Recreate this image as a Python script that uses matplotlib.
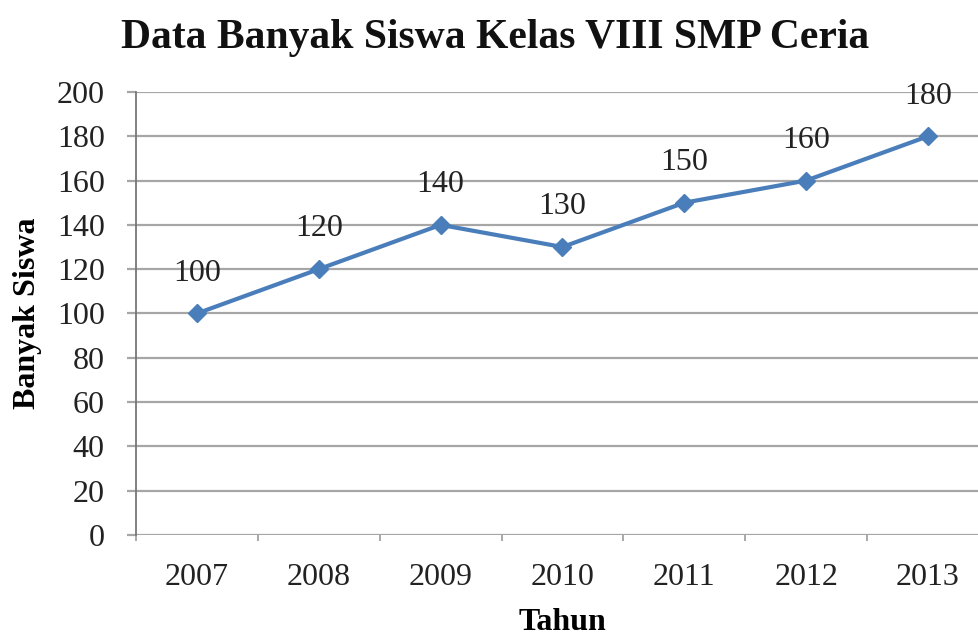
import matplotlib.pyplot as plt
from matplotlib.ticker import FixedLocator

tahun = ['2007', '2008', '2009', '2010', '2011', '2012', '2013']
siswa = [100, 120, 140, 130, 150, 160, 180]
y_ticks = [0, 20, 40, 60, 80, 100, 120, 140, 160, 180, 200]

plt.rcParams['font.family'] = ['Liberation Serif', 'DejaVu Serif']

fig = plt.figure(figsize=(9.79, 6.39), dpi=100)
ax = fig.add_axes([0.139, 0.163, 0.871, 0.693])

x = list(range(len(tahun)))
ax.plot(x, siswa, color='#4a7ebb', linewidth=3.0, marker='D', markersize=9,
        clip_on=False, zorder=3)

for xi, v in zip(x, siswa):
    ax.annotate(str(v), (xi, v), xytext=(0, 29), textcoords='offset points',
                ha='center', va='center', fontsize=23, color='#222222')

ax.set_xlim(-0.5, len(tahun) - 0.5)
ax.set_ylim(0, 200)
ax.set_yticks(y_ticks)
ax.set_xticks(x)
ax.set_xticklabels(tahun)
ax.xaxis.set_minor_locator(FixedLocator([i - 0.5 for i in range(len(tahun) + 1)]))

ax.grid(axis='y', color='#a6a6a6', linewidth=1.6, zorder=0)
ax.set_axisbelow(True)
for s in ['top', 'right', 'bottom']:
    ax.spines[s].set_visible(False)
ax.spines['left'].set_color('#777777')
ax.spines['left'].set_linewidth(1.3)

ax.tick_params(axis='y', length=6.5, width=1.6, color='#a6a6a6', pad=16,
               labelsize=23, labelcolor='#222222')
ax.tick_params(axis='x', which='major', length=0, pad=20, labelsize=23,
               labelcolor='#222222')
ax.tick_params(axis='x', which='minor', length=4.5, width=1.2, color='#999999')

ax.set_ylabel('Banyak Siswa', fontsize=23, fontweight='bold', labelpad=11)
ax.set_xlabel('Tahun', fontsize=23, fontweight='bold', labelpad=12)
fig.text(0.506, 0.94, 'Data Banyak Siswa Kelas VIII SMP Ceria', ha='center',
         va='center', fontsize=30, fontweight='bold', color='#111111')

fig.savefig('out.png', dpi=100)
